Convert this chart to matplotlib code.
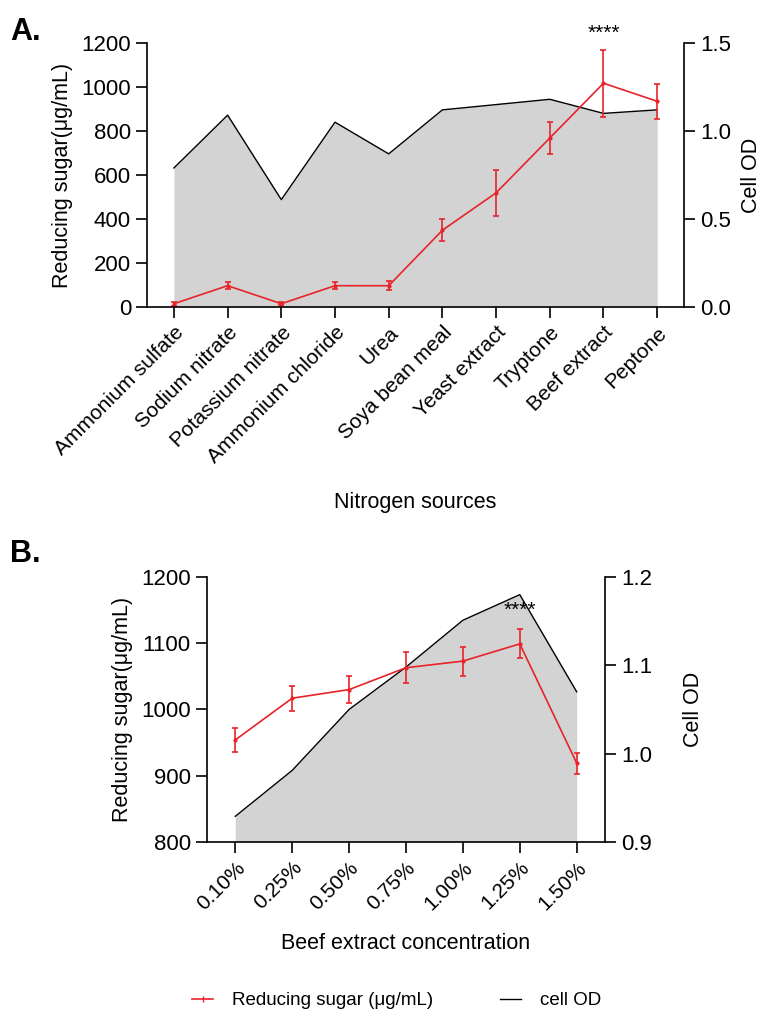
import matplotlib
matplotlib.use("Agg")
import matplotlib.pyplot as plt
import numpy as np
from matplotlib.lines import Line2D

plt.rcParams['font.family'] = ['Liberation Sans', 'DejaVu Sans']

# Panel A data
nitrogen_sources = ["Ammonium sulfate", "Sodium nitrate", "Potassium nitrate",
                    "Ammonium chloride", "Urea", "Soya bean meal", "Yeast extract",
                    "Tryptone", "Beef extract", "Peptone"]
sugar_a = [15, 97, 15, 97, 97, 349, 519, 768, 1017, 935]
sugar_a_err = [8, 17, 7, 16, 20, 49, 104, 71, 153, 80]
od_a = [0.79, 1.09, 0.61, 1.05, 0.87, 1.12, 1.15, 1.18, 1.10, 1.12]

# Panel B data
concentrations = ["0.10%", "0.25%", "0.50%", "0.75%", "1.00%", "1.25%", "1.50%"]
sugar_b = [954, 1017, 1030, 1063, 1073, 1099, 919]
sugar_b_err = [18, 19, 20, 23, 22, 22, 16]
od_b = [0.929, 0.981, 1.050, 1.098, 1.151, 1.180, 1.070]

RED = "#e8232a"
GRAY = "#d3d3d3"

fig = plt.figure(figsize=(7.66, 10.11), dpi=100)

def make_panel(rect, cats, sugar, err, od, ylim_l, yticks_l, ylim_r, yticks_r, rfmt,
               xlabel, star_idx, star_y, xlabelpad, rlabelpad):
    ax = fig.add_axes(rect)
    ax2 = ax.twinx()
    x = np.arange(len(cats))
    ax2.fill_between(x, ylim_r[0], od, color=GRAY, lw=0)
    ax2.plot(x, od, color="black", lw=1.0)
    ax.errorbar(x, sugar, yerr=err, color=RED, lw=1.2, capsize=2.5,
                elinewidth=1.2, capthick=1.2, marker='o', markersize=2)
    ax.set_zorder(ax2.get_zorder() + 1)
    ax.patch.set_visible(False)
    ax.set_xlim(-0.5, len(cats) - 0.5)
    ax.set_ylim(*ylim_l)
    ax.set_yticks(yticks_l)
    ax2.set_ylim(*ylim_r)
    ax2.set_yticks(yticks_r)
    ax2.set_yticklabels([rfmt % v for v in yticks_r])
    ax.set_xticks(x)
    ax.set_xticklabels(cats, rotation=45, ha='right', rotation_mode='anchor')
    for a in (ax, ax2):
        a.spines['top'].set_visible(False)
        for s in a.spines.values():
            s.set_linewidth(1.2)
        a.tick_params(direction='out', length=8, width=1.2, labelsize=16)
    ax.tick_params(axis='x', length=8, labelsize=15)
    ax.spines['right'].set_visible(False)
    ax2.spines['left'].set_visible(False)
    ax2.spines['bottom'].set_visible(False)
    ax.set_ylabel("Reducing sugar(\u03bcg/mL)", fontsize=15.5, labelpad=6)
    ax2.set_ylabel("Cell OD", fontsize=15.5, labelpad=rlabelpad)
    ax.set_xlabel(xlabel, fontsize=15.5, labelpad=xlabelpad)
    ax.text(star_idx, star_y, "****", ha='center', va='center', fontsize=15, clip_on=False)
    return ax, ax2

axA, axA2 = make_panel([0.192, 0.6963, 0.701, 0.2612], nitrogen_sources, sugar_a, sugar_a_err,
                       od_a, (0, 1200), [0, 200, 400, 600, 800, 1000, 1200],
                       (0, 1.5), [0.0, 0.5, 1.0, 1.5], "%.1f", "Nitrogen sources", 8, 1245,
                       18, 7)

axB, axB2 = make_panel([0.270, 0.1672, 0.520, 0.2621], concentrations, sugar_b, sugar_b_err,
                       od_b, (800, 1200), [800, 900, 1000, 1100, 1200],
                       (0.9, 1.2), [0.9, 1.0, 1.1, 1.2], "%.1f", "Beef extract concentration", 5, 1150,
                       14, 22)

fig.text(0.013, 0.968, "A.", fontsize=22, fontweight='bold', va='center')
fig.text(0.013, 0.452, "B.", fontsize=22, fontweight='bold', va='center')

# legend
h1 = Line2D([], [], color=RED, lw=1.2, marker='|', markersize=4)
h2 = Line2D([], [], color='black', lw=1.0)
fig.legend([h1, h2], ["Reducing sugar (\u03bcg/mL)", "cell OD"], loc='center',
           bbox_to_anchor=(0.518, 0.010), ncol=2, frameon=False, fontsize=13.5,
           handlelength=1.1, handletextpad=1.0, columnspacing=3.6)

fig.savefig("out.png", dpi=100)
